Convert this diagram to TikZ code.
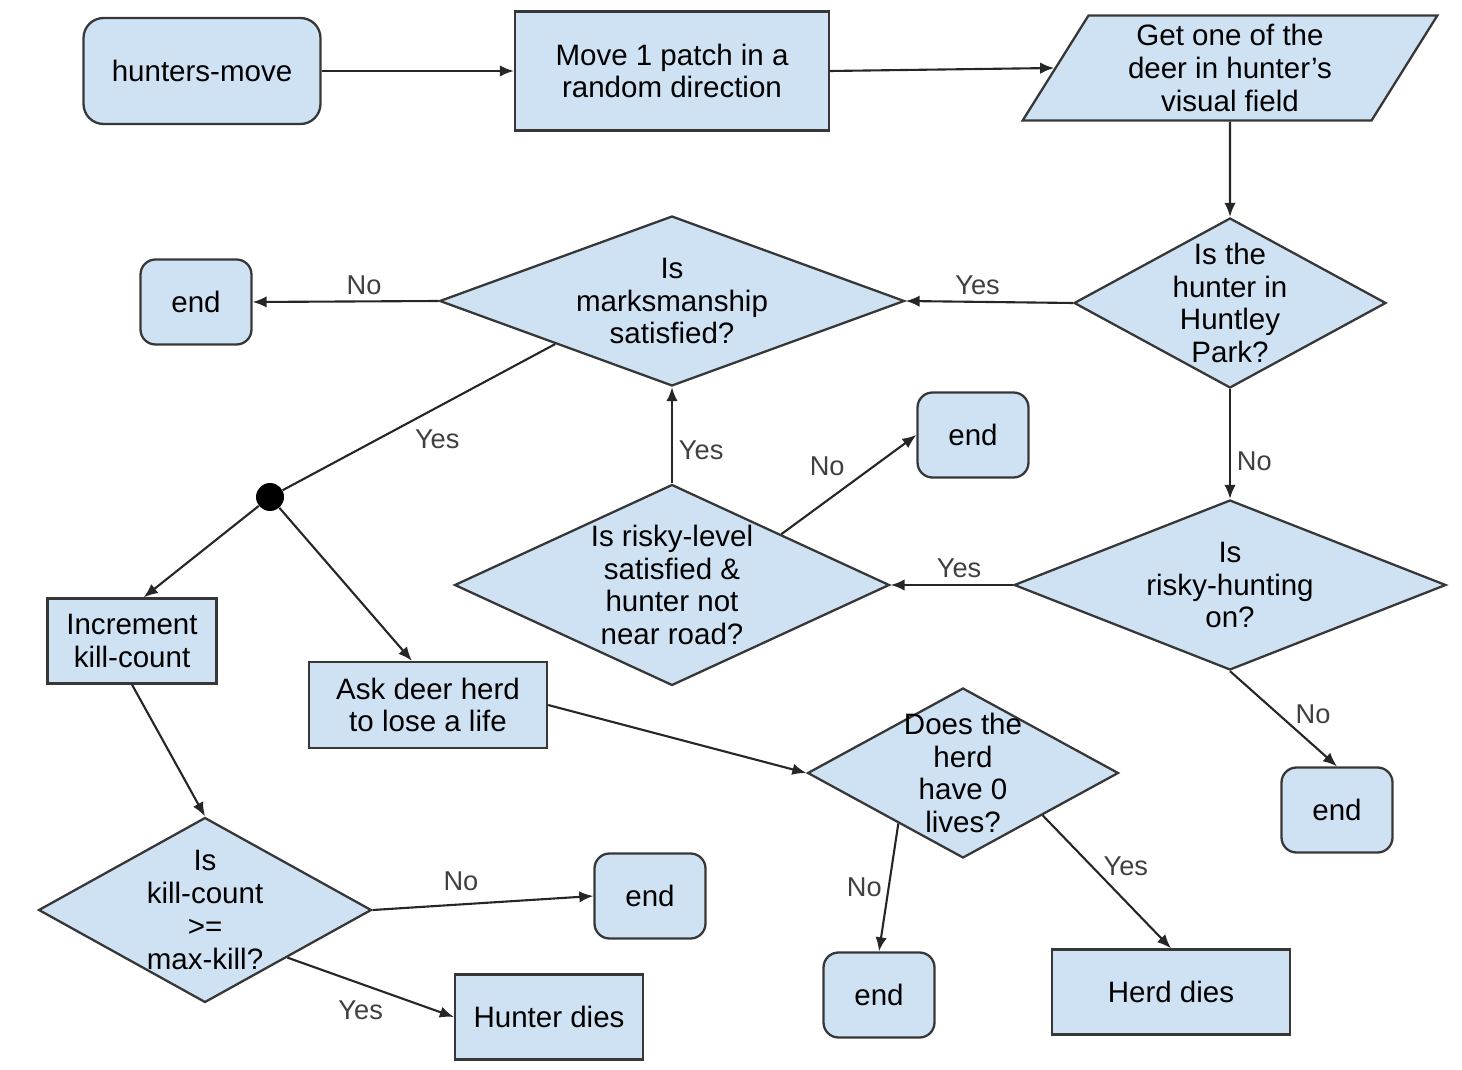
\documentclass[tikz,border=0pt]{standalone}
\usepackage{fontspec}
\setmainfont{Liberation Sans}
\usetikzlibrary{arrows.meta,shapes.geometric}
\definecolor{boxfill}{RGB}{207,226,243}
\definecolor{boxline}{RGB}{55,55,55}
\newcommand{\boxfont}{\fontsize{16.8}{18.7}\selectfont}
\newcommand{\labfont}{\fontsize{15.5}{17}\selectfont}

\begin{document}
\begin{tikzpicture}[x=0.02cm,y=-0.02cm,
  box/.style={draw=boxline, fill=boxfill, line width=1.3pt, align=center, inner sep=0pt, font=\boxfont},
  startbox/.style={box, rounded corners=0.4cm, minimum width=4.74cm, minimum height=2.12cm},
  endbox/.style={box, rounded corners=0.3cm, minimum width=2.22cm, minimum height=1.70cm},
  procbox/.style={box, rectangle},
  iobox/.style={box, trapezium, trapezium left angle=61.5, trapezium right angle=118.5,
    trapezium stretches=true, minimum width=8.30cm, minimum height=2.10cm},
  decision/.style={box, diamond},
  qtext/.style={align=center, font=\boxfont, inner sep=0pt},
  conn/.style={draw=black!85, line width=1.2pt},
  flow/.style={conn, -{Latex[length=8pt,width=6.5pt]}},
  lab/.style={font=\labfont, text=black!75}]
  \useasboundingbox (0,0) rectangle (1462,1070);

  \node[startbox] (hmove) at (202,71) {hunters-move};
  \node[procbox, minimum width=6.28cm, minimum height=2.38cm] (move) at (672,71) {Move 1 patch in a\\random direction};
  \node[iobox] (getdeer) at (1230,68) {Get one of the\\deer in hunter’s\\visual field};

  \node[decision, minimum width=6.24cm, minimum height=3.40cm,
    label={[qtext]center:Is the\\hunter in\\Huntley\\Park?}] (inpark) at (1230,303) {};
  \node[decision, minimum width=9.30cm, minimum height=3.40cm,
    label={[qtext]center:Is\\marksmanship\\satisfied?}] (marks) at (672,301) {};
  \node[endbox] (end1) at (196,302) {end};
  \node[endbox] (end2) at (973,435) {end};

  \node[decision, minimum width=8.70cm, minimum height=4.02cm,
    label={[qtext]center:Is risky-level\\satisfied \&\\hunter not\\near road?}] (risklevel) at (672,585) {};
  \node[decision, minimum width=8.64cm, minimum height=3.40cm,
    label={[qtext]center:Is\\risky-hunting\\on?}] (riskhunt) at (1230,585) {};
  \node[endbox] (end3) at (1337,810) {end};

  \node[circle, fill=black, minimum size=0.56cm, inner sep=0pt] (split) at (270,497) {};
  \node[procbox, minimum width=3.38cm, minimum height=1.70cm] (incr) at (132,641) {Increment\\kill-count};
  \node[procbox, minimum width=4.76cm, minimum height=1.72cm] (askherd) at (428,705) {Ask deer herd\\to lose a life};
  \node[decision, minimum width=6.22cm, minimum height=3.40cm,
    label={[qtext]center:Does the\\herd\\have 0\\lives?}] (zerolives) at (963,773) {};

  \node[decision, minimum width=6.66cm, minimum height=3.70cm,
    label={[qtext]center:Is\\kill-count\\>=\\max-kill?}] (maxkill) at (205,910) {};
  \node[endbox] (end4) at (650,896) {end};
  \node[procbox, minimum width=3.76cm, minimum height=1.70cm] (hdies) at (549,1017) {Hunter dies};
  \node[endbox] (end5) at (879,995) {end};
  \node[procbox, minimum width=4.76cm, minimum height=1.70cm] (herddies) at (1171,992) {Herd dies};

  \draw[flow] (hmove) -- (move);
  \draw[flow] (move.east) -- (getdeer.west);
  \draw[flow] (getdeer.south) -- (inpark.north);
  \draw[flow] (inpark.west) -- node[lab, above, pos=0.57] {Yes} (marks.east);
  \draw[flow] (inpark.south) -- node[lab, right, pos=0.66] {No} (riskhunt.north);
  \draw[flow] (marks.west) -- node[lab, above, pos=0.4] {No} (end1.east);
  \draw[conn] (marks.south west) -- node[lab, below, pos=0.42, yshift=-10pt, xshift=-2pt] {Yes} (split);
  \draw[flow] (split) -- (incr.75);
  \draw[flow] (split) -- (askherd.110);
  \draw[flow] (riskhunt.west) -- node[lab, above, pos=0.44] {Yes} (risklevel.east);
  \draw[flow] (riskhunt.south) -- node[lab, right, pos=0.45, xshift=6pt] {No} (end3.north);
  \draw[flow] (risklevel.north) -- node[lab, right, pos=0.34] {Yes} (marks.south);
  \draw[flow] (risklevel.north east) -- node[lab, above left, pos=0.52] {No} (end2.west);
  \draw[flow] (incr.south) -- (maxkill.north);
  \draw[flow] (askherd.east) -- (zerolives.west);
  \draw[flow] (zerolives.-142) -- node[lab, left, pos=0.5] {No} (end5.north);
  \draw[flow] (zerolives.-28) -- node[lab, right, pos=0.38, xshift=3pt] {Yes} (herddies.north);
  \draw[flow] (maxkill.east) -- node[lab, above, pos=0.4, yshift=4pt] {No} (end4.west);
  \draw[flow] (maxkill.-30) -- node[lab, below, pos=0.44, yshift=-6pt] {Yes} (hdies.west);
\end{tikzpicture}
\end{document}
